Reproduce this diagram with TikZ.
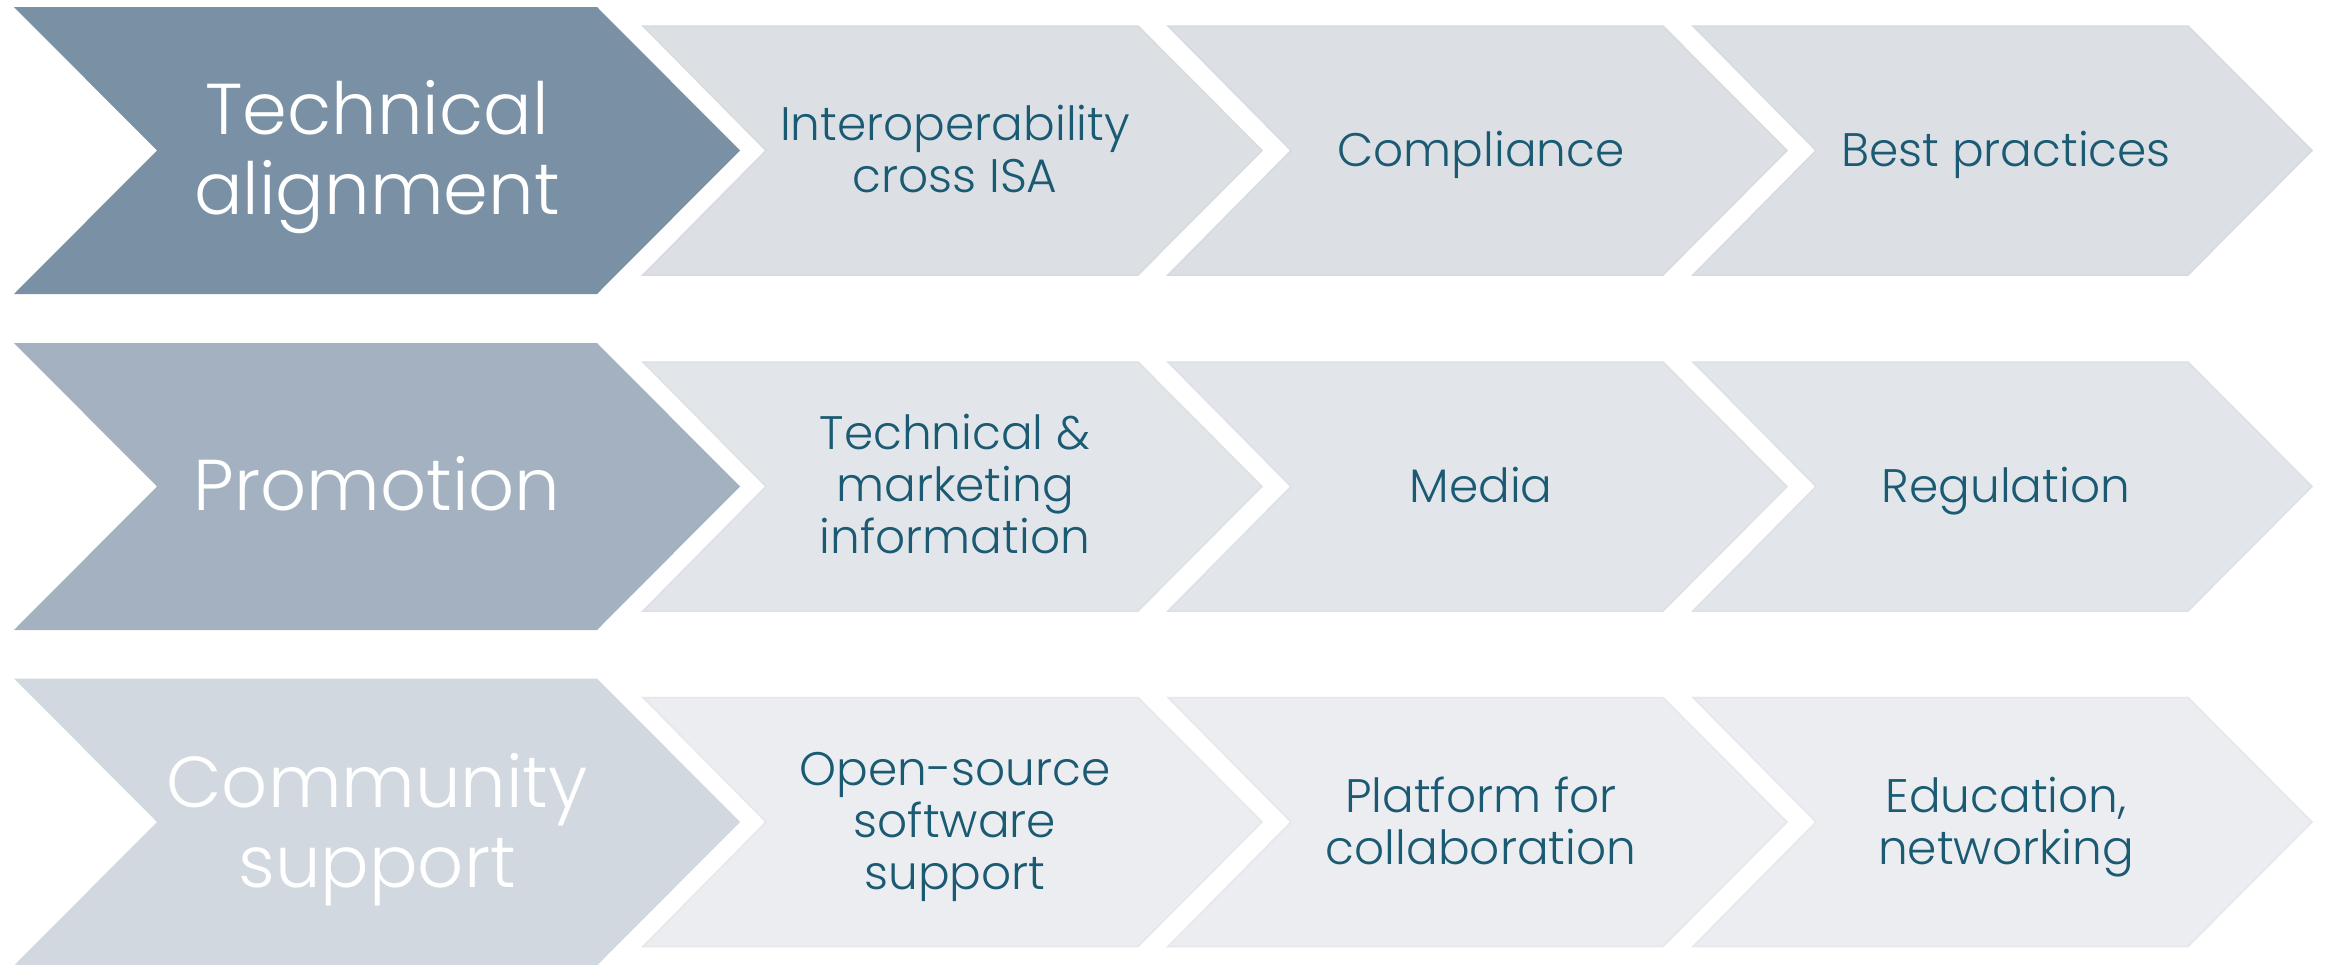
\documentclass[tikz,border=0pt]{standalone}
\usepackage{fontspec}
\IfFontExistsTF{Poppins Light}{\setmainfont{Poppins Light}}{\setmainfont{Poppins}}
\definecolor{bigA}{HTML}{7990A5}
\definecolor{bigB}{HTML}{A4B1C0}
\definecolor{bigC}{HTML}{D2D8E0}
\definecolor{smA}{HTML}{DCE0E5}
\definecolor{smB}{HTML}{E2E6EB}
\definecolor{smC}{HTML}{EBEDF1}
\definecolor{txt}{HTML}{1B5A73}
\tikzset{
  bigtext/.style={text=white, align=center, font=\fontsize{72}{80}\selectfont, inner sep=0pt, anchor=base},
  smtext/.style={text=txt, align=center, font=\fontsize{47}{52}\selectfont, inner sep=0pt, anchor=base},
}
\begin{document}
\begin{tikzpicture}[x=1pt,y=-1pt]
\useasboundingbox (0,0) rectangle (2328,964);
\fill[white] (0,0) rectangle (2328,964);
% big chevrons
\foreach \c/\col in {150.5/bigA,486.5/bigB,822/bigC}{
  \fill[\col] (14,\c-143.5) -- (597,\c-143.5) -- (740,\c) -- (597,\c+143.5) -- (14,\c+143.5) -- (157,\c) -- cycle;
}
% small chevrons
\foreach \c/\col in {150.5/smA,486.5/smB,822/smC}{
  \foreach \x in {643,1168,1693}{
    \filldraw[fill=\col, draw=\col!94!black!40!\col, line width=1.5pt] (\x,\c-124.5) -- (\x+495,\c-124.5) -- (\x+619,\c) -- (\x+495,\c+124.5) -- (\x,\c+124.5) -- (\x+123,\c) -- cycle;
  }
}
% big texts (anchor = baseline of last line)
\node[bigtext] (t1) at (377,214) {Technical\\alignment};
\node[bigtext] (t2) at (377,510) {Promotion};
\node[bigtext] (t3) at (377,887) {Community\\support};
% row 1
\node[smtext] (a1) at (955,192.5) {Interoperability\\cross ISA};
\node[smtext] (a2) at (1481,166) {Compliance};
\node[smtext] (a3) at (2006,166) {Best practices};
% row 2
\node[smtext] (b1) at (955,553.5) {Technical \&\\marketing\\information};
\node[smtext] (b2) at (1481,502) {Media};
\node[smtext] (b3) at (2006,502) {Regulation};
% row 3
\node[smtext] (c1) at (955,889) {Open-source\\software\\support};
\node[smtext] (c2) at (1481,864) {Platform for\\collaboration};
\node[smtext] (c3) at (2006,864) {Education,\\networking};
\end{tikzpicture}
\end{document}
